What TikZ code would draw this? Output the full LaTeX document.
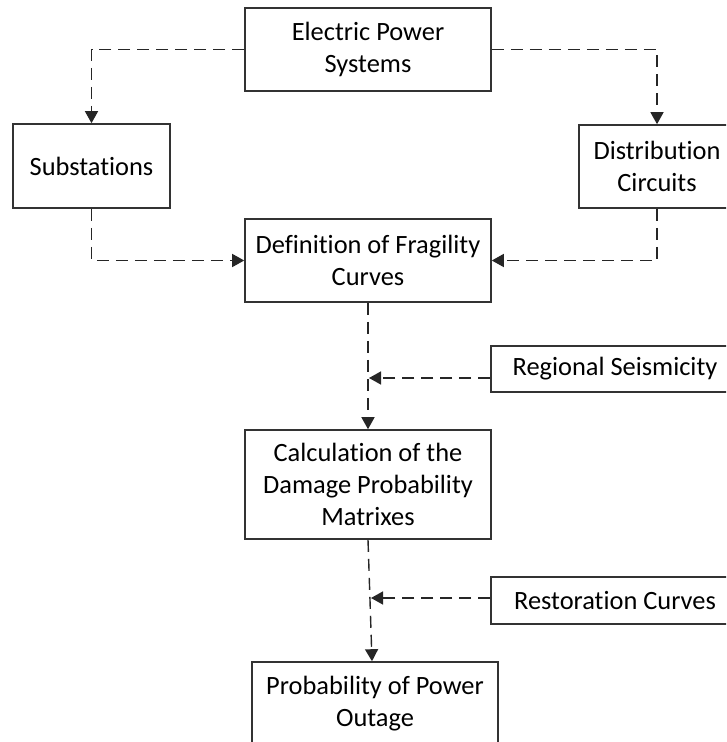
\documentclass[tikz,border=0pt]{standalone}
\usepackage{fontspec}
\setmainfont{Carlito}[Ligatures=NoCommon]
\usetikzlibrary{arrows.meta}

\begin{document}
\begin{tikzpicture}[x=0.5pt,y=-0.5pt,
  blk/.style={draw=black!80,line width=0.8pt,fill=white,align=center,inner sep=0pt,
    font=\fontsize{13.2}{16}\selectfont},
  flow/.style={draw=black!85,line width=0.7pt,dash pattern=on 6pt off 3.5pt,
    -{Triangle[length=6pt,width=6.5pt]}}]
  % page, in pixels from the top left corner
  \useasboundingbox (0,0) rectangle (726,742);
  \clip (0,0) rectangle (726,742);
  \fill[white] (0,0) rectangle (726,742);
  % boxes
  \node[blk,minimum width=123pt,minimum height=41.5pt] (eps) at (368,49.5) {Electric Power\\Systems};
  \node[blk,minimum width=78.5pt,minimum height=42pt] (sub) at (91.5,166) {Substations};
  \node[blk,minimum width=78pt,minimum height=41.5pt] (dist) at (657,166.5) {Distribution\\Circuits};
  \node[blk,minimum width=123pt,minimum height=41.5pt] (def) at (368,260.5) {Definition of Fragility\\Curves};
  \node[blk,minimum width=124pt,minimum height=23pt] (reg) at (615,369) {Regional Seismicity};
  \node[blk,minimum width=123pt,minimum height=54.5pt] (calc) at (368,484.5) {Calculation of the\\Damage Probability\\Matrixes};
  \node[blk,minimum width=124pt,minimum height=23.5pt] (rest) at (615,600.5) {Restoration Curves};
  \node[blk,minimum width=123pt,minimum height=42pt] (out) at (375,704) {Probability of Power\\Outage};
  % junctions on the main line
  \coordinate (j1) at (369,378);
  \coordinate (j2) at (371,598);
  % connectors
  \draw[flow] (eps.west) -| (sub.north);
  \draw[flow] (eps.east) -| (dist.north);
  \draw[flow] (sub.south) |- (def.west);
  \draw[flow] (dist.south) |- (def.east);
  \draw[flow] (def.south) -- (calc.north);
  \draw[flow] (reg.west |- j1) -- (j1);
  \draw[flow] (calc.south) -- ([xshift=-1.5pt]out.north);
  \draw[flow] (rest.west |- j2) -- (j2);
\end{tikzpicture}
\end{document}
